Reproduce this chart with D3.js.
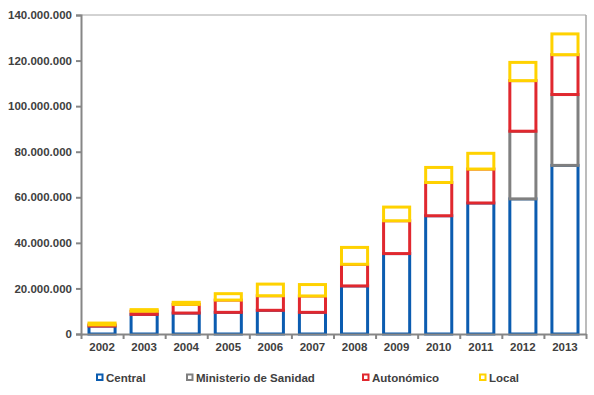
<!DOCTYPE html>
<html>
<head>
<meta charset="utf-8">
<script src="https://cdn.jsdelivr.net/npm/d3@7"></script>
<style>
  body { margin: 0; background: #fff; }
  text { font-family: Arial, "Liberation Sans", sans-serif; }
</style>
</head>
<body>
<div id="chart"></div>
<script>
const years = ['2002', '2003', '2004', '2005', '2006', '2007', '2008', '2009', '2010', '2011', '2012', '2013'];
const central = [3500000, 8600000, 9200000, 9500000, 10400000, 9500000, 21100000, 35300000, 51900000, 57500000, 59300000, 74000000];
const ministerio = [0, 0, 0, 0, 0, 0, 0, 0, 0, 0, 29700000, 31100000];
const autonomico = [500000, 1400000, 3800000, 5400000, 6400000, 7200000, 9500000, 14400000, 14600000, 14900000, 22200000, 17500000];
const local = [800000, 700000, 900000, 2800000, 5100000, 5000000, 7400000, 6000000, 6600000, 6900000, 8000000, 9100000];
const seriesNames = ['Central', 'Ministerio de Sanidad', 'Autonómico', 'Local'];
const yTicks = [0, 20000000, 40000000, 60000000, 80000000, 100000000, 120000000, 140000000];

const colors = ['#0b5cb0', '#808080', '#e0282f', '#ffd200'];

const width = 594;
const height = 395;
const margin = { top: 15, right: 8, bottom: 61, left: 81 };
const innerW = width - margin.left - margin.right;
const innerH = height - margin.top - margin.bottom;

const table = years.map((y, i) => ({
    year: y,
    'Central': central[i],
    'Ministerio de Sanidad': ministerio[i],
    'Autonómico': autonomico[i],
    'Local': local[i]
}));
const stacked = d3.stack().keys(seriesNames)(table);

const svg = d3.select('#chart').append('svg')
    .attr('width', width)
    .attr('height', height);

const g = svg.append('g')
    .attr('transform', 'translate(' + margin.left + ',' + margin.top + ')');

const x = d3.scaleBand().domain(years).range([0, innerW]).paddingInner(0.38).paddingOuter(0.19);
const xEdges = d3.scaleLinear().domain([0, years.length]).range([0, innerW]);
const y = d3.scaleLinear().domain([0, 140000000]).range([innerH, 0]);

const es = d3.formatLocale({ decimal: ',', thousands: '.', grouping: [3], currency: ['', ''] });
const fmt = es.format(',d');

// plot border (top and right)
g.append('line').attr('x1', 0).attr('x2', innerW).attr('y1', 0).attr('y2', 0)
    .attr('stroke', '#a6a6a6').attr('stroke-width', 1);
g.append('line').attr('x1', innerW).attr('x2', innerW).attr('y1', 0).attr('y2', innerH)
    .attr('stroke', '#a6a6a6').attr('stroke-width', 1.5);

// bars: hollow stacked rects, upper segments drawn over lower ones
stacked.forEach((s, si) => {
    g.append('g')
        .selectAll('rect')
        .data(s.filter(d => d[1] - d[0] > 0))
        .enter().append('rect')
        .attr('x', d => x(d.data.year))
        .attr('y', d => y(d[1]))
        .attr('width', x.bandwidth())
        .attr('height', d => y(d[0]) - y(d[1]))
        .attr('fill', '#fff')
        .attr('stroke', colors[si])
        .attr('stroke-width', 3);
});

// y axis
const yAxis = g.append('g')
    .call(d3.axisLeft(y).tickValues(yTicks).tickFormat(fmt).tickSize(5).tickPadding(4));
yAxis.select('.domain').attr('stroke', '#868686').attr('stroke-width', 2);
yAxis.selectAll('.tick line').attr('stroke', '#868686').attr('stroke-width', 2);
yAxis.selectAll('text').attr('fill', '#404040').style('font-size', '11.5px').style('font-weight', 'bold');

// x axis
const xTicks = g.append('g')
    .attr('transform', 'translate(0,' + innerH + ')')
    .call(d3.axisBottom(xEdges).ticks(years.length).tickFormat('').tickSize(5).tickSizeOuter(0));
xTicks.select('.domain').attr('stroke', '#868686').attr('stroke-width', 2);
xTicks.selectAll('.tick line').attr('stroke', '#868686').attr('stroke-width', 2);

const xAxis = g.append('g')
    .attr('transform', 'translate(0,' + innerH + ')')
    .call(d3.axisBottom(x).tickSize(0).tickPadding(9));
xAxis.select('.domain').remove();
xAxis.selectAll('text').attr('fill', '#404040').style('font-size', '11.5px').style('font-weight', 'bold');

// legend
const legendX = [96, 186, 362, 479];
const legend = svg.append('g');
seriesNames.forEach((name, i) => {
    legend.append('rect')
        .attr('x', legendX[i] + 1)
        .attr('y', 374.5)
        .attr('width', 5.5)
        .attr('height', 5.5)
        .attr('fill', '#fff')
        .attr('stroke', colors[i])
        .attr('stroke-width', 2);
    legend.append('text')
        .attr('x', legendX[i] + 10)
        .attr('y', 382)
        .attr('fill', '#404040')
        .style('font-size', '11.5px')
        .style('font-weight', 'bold')
        .text(name);
});
</script>
</body>
</html>
